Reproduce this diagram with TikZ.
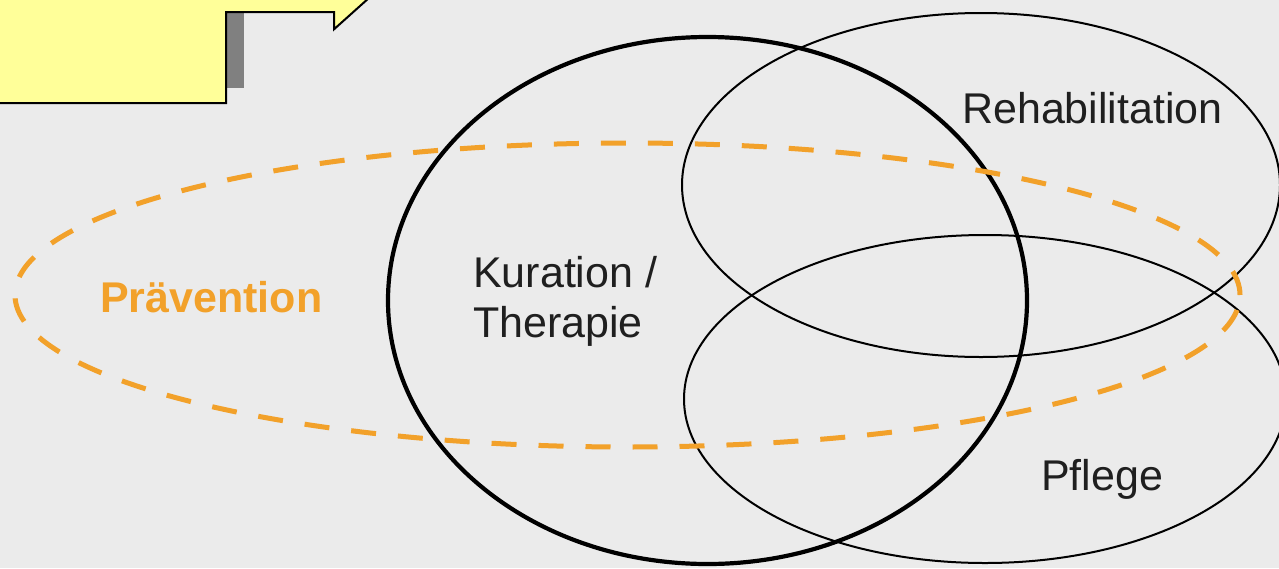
\documentclass[tikz,border=0pt]{standalone}
\usepackage{fontspec}
\setmainfont{Liberation Sans}
\usetikzlibrary{shapes.geometric}
\definecolor{bg}{HTML}{EBEBEB}
\definecolor{orng}{HTML}{F2A12A}
\definecolor{callyellow}{HTML}{FFFF99}
\definecolor{shadowgray}{HTML}{808080}
\begin{document}
\begin{tikzpicture}[x=1pt,y=-1pt,
  ring/.style={draw=black, ellipse, inner sep=0pt, line width=2pt},
  thickring/.style={ring, line width=4.2pt},
  prevring/.style={draw=orng, ellipse, inner sep=0pt, line width=5pt, dash pattern=on 25pt off 22pt},
  lbl/.style={inner sep=0pt, font=\fontsize{43}{50}\selectfont, text=black!88},
  callout/.style={fill=callyellow, draw=black, line width=2pt, line join=miter}]
\useasboundingbox (0,0) rectangle (1279,568);
\fill[bg] (0,0) rectangle (1279,568);
\clip (0,0) rectangle (1279,568);
% callout
\fill[shadowgray] (226,12) rectangle (244,88);
\draw[callout] (-10,103) -- (226,103) -- (226,12) -- (334,12) -- (334,29.3) -- (389,-20) -- (-10,-20) -- cycle;
% ellipses
\node[thickring, minimum width=639pt, minimum height=527pt] (kur) at (707.5,300.5) {};
\node[ring, minimum width=598pt, minimum height=344pt] (reha) at (981,185) {};
\node[ring, minimum width=602pt, minimum height=328pt] (pfl) at (985,399) {};
\node[prevring, minimum width=1225pt, minimum height=304pt] (prev) at (627.5,295) {};
% labels
\node[lbl, anchor=base west] (trehab) at (962,123) {Rehabilitation};
\node[lbl, anchor=base west] (tkur) at (473,287) {Kuration /};
\node[lbl, anchor=base west] (ther) at (473,337) {Therapie};
\node[lbl, anchor=base west] (tpfl) at (1041,490) {Pflege};
\node[lbl, anchor=base west, text=orng, font=\fontsize{43}{50}\selectfont\bfseries] (tprev) at (100,312) {Prävention};
\end{tikzpicture}
\end{document}
